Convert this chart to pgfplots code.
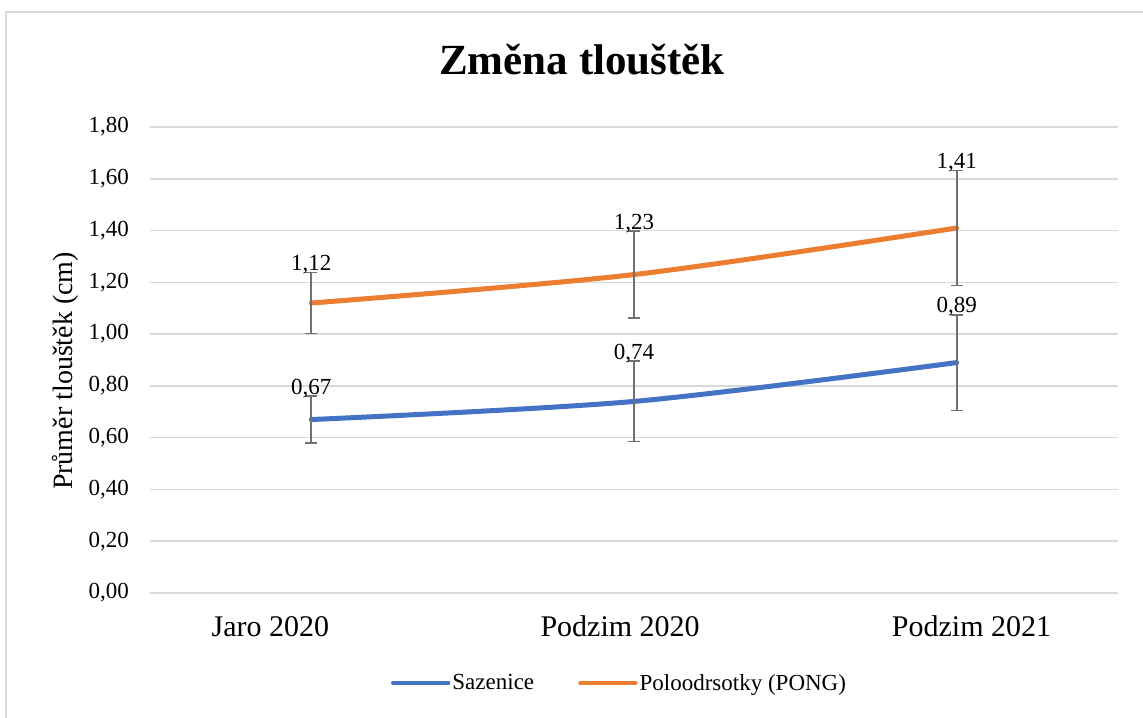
\documentclass[border=0pt]{standalone}
\usepackage{fontspec}
\setmainfont{Liberation Serif}
\usepackage{pgfplots}
\pgfplotsset{compat=1.18}
\definecolor{cblue}{HTML}{4472C4}
\definecolor{corange}{HTML}{ED7D31}
\definecolor{cgrid}{HTML}{D9D9D9}
\definecolor{cerr}{HTML}{707070}
\begin{document}
\begin{tikzpicture}
\path[use as bounding box] (0,0) rectangle (1143bp,718bp);
\draw[cgrid, line width=1.5bp] (6bp,0) -- (6bp,706bp) -- (1143bp,706bp);
\node[font=\bfseries\fontsize{43bp}{50bp}\selectfont, anchor=base] at (582bp,643bp) {Změna tlouštěk};
\node[rotate=90, font=\fontsize{28bp}{32bp}\selectfont] at (65bp,347bp) {Průměr tlouštěk (cm)};
\begin{axis}[
  at={(150bp,125bp)}, anchor=south west,
  scale only axis, width=968bp, height=466bp,
  xmin=-0.5, xmax=2.5, ymin=0, ymax=1.8,
  clip=false,
  xtick={-0.127,0.957,2.046},
  xticklabels={Jaro 2020, Podzim 2020, Podzim 2021},
  ytick={0,0.2,0.4,0.6,0.8,1.0,1.2,1.4,1.6,1.8},
  yticklabels={{0,00},{0,20},{0,40},{0,60},{0,80},{1,00},{1,20},{1,40},{1,60},{1,80}},
  major tick length=0pt,
  axis line style={draw=none},
  ymajorgrids, grid style={cgrid, line width=1.5bp},
  yticklabel style={font=\fontsize{23bp}{26bp}\selectfont, inner sep=0pt, anchor=east, xshift=-21bp},
  xticklabel style={font=\fontsize{30bp}{34bp}\selectfont, inner sep=0pt, anchor=base, yshift=-43bp},
  legend columns=2,
  legend style={at={(0.485,-0.193)}, anchor=center, draw=none, fill=none,
    font=\fontsize{23bp}{26bp}\selectfont,
    /tikz/every even column/.append style={column sep=42bp}},
  legend image code/.code={\draw[line width=4.5bp, line cap=round] (0bp,0bp) -- (55bp,0bp);},
]
\addplot[cblue, line width=5bp, smooth, tension=0.5, line cap=round, no marks,
  error bars/.cd, y dir=both, y explicit,
  error bar style={cerr, line width=1.8bp, line cap=butt},
  error mark options={cerr, rotate=90, mark size=6bp, line width=1.8bp}]
  coordinates {(0,0.67) +- (0,0.09) (1,0.74) +- (0,0.155) (2,0.89) +- (0,0.185)};
\addlegendentry{Sazenice}
\addplot[corange, line width=5bp, smooth, tension=0.5, line cap=round, no marks,
  error bars/.cd, y dir=both, y explicit,
  error bar style={cerr, line width=1.8bp, line cap=butt},
  error mark options={cerr, rotate=90, mark size=6bp, line width=1.8bp}]
  coordinates {(0,1.12) +- (0,0.118) (1,1.23) +- (0,0.168) (2,1.41) +- (0,0.222)};
\addlegendentry{Poloodrsotky (PONG)}
\begin{scope}[every node/.style={anchor=base, font=\fontsize{23bp}{26bp}\selectfont, yshift=2bp}]
\node at (axis cs:0,0.760) {0,67};
\node at (axis cs:1,0.895) {0,74};
\node at (axis cs:2,1.075) {0,89};
\node at (axis cs:0,1.238) {1,12};
\node at (axis cs:1,1.398) {1,23};
\node at (axis cs:2,1.632) {1,41};
\end{scope}
\end{axis}
\end{tikzpicture}
\end{document}
